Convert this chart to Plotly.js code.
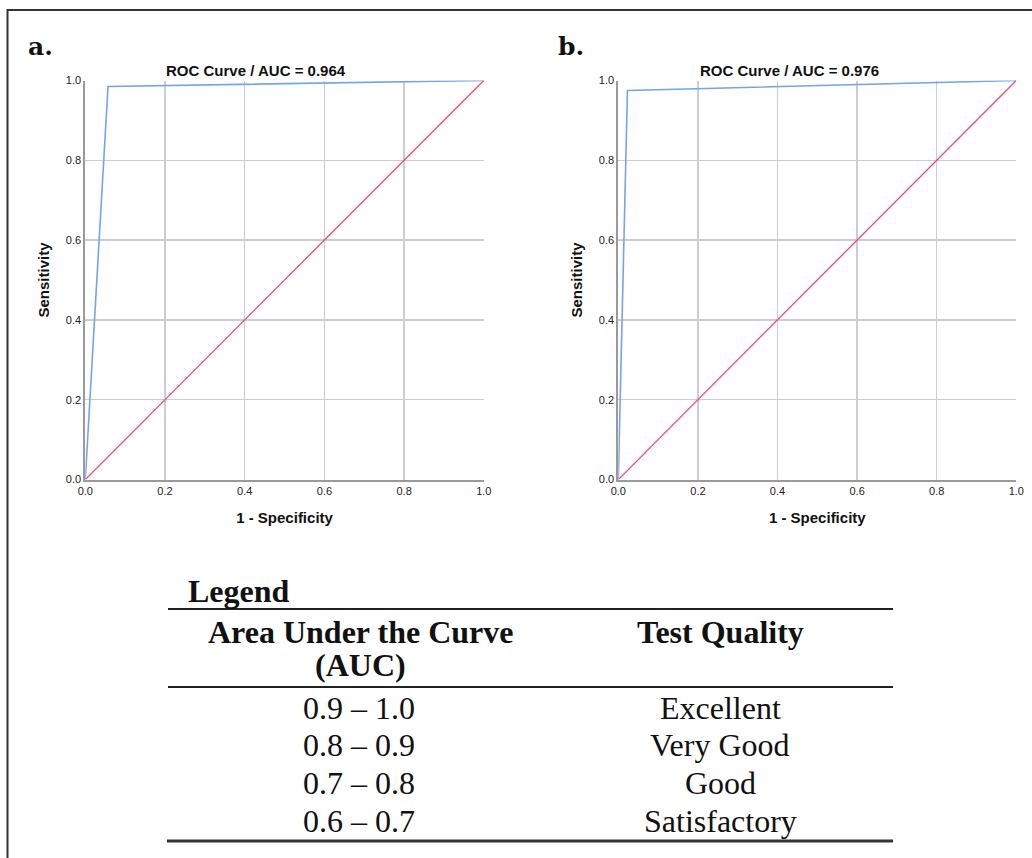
<!DOCTYPE html>
<html>
<head>
<meta charset="utf-8">
<script src="https://cdn.plot.ly/plotly-3.0.1.min.js"></script>
<style>
  html, body { margin: 0; padding: 0; background: #fff; }
  #chart { width: 1032px; height: 858px; }
</style>
</head>
<body>
<div id="chart"></div>
<script>
// ---- Data ----
const fprA = [0, 0.057, 1];
const tprA = [0, 0.985, 1];
const fprB = [0, 0.023, 1];
const tprB = [0, 0.975, 1];
const refX = [0, 1];
const refY = [0, 1];
const aucA = 0.964;
const aucB = 0.976;
const tickVals = [0, 0.2, 0.4, 0.6, 0.8, 1.0];
const tickText = ["0.0", "0.2", "0.4", "0.6", "0.8", "1.0"];
const aucRanges = ["0.9 – 1.0", "0.8 – 0.9", "0.7 – 0.8", "0.6 – 0.7"];
const qualities = ["Excellent", "Very Good", "Good", "Satisfactory"];

// ---- Layout helpers (pixel -> paper) ----
const W = 1032, H = 858;
const px = x => x / W;
const py = y => 1 - y / H;

const blue = "#74a4ea";
const red = "#ec4a76";
const sans = "Liberation Sans, Arial, sans-serif";
const serif = "Liberation Serif, Times New Roman, serif";
const tableSize = 32;

const traces = [
  { x: fprA, y: tprA, xaxis: "x", yaxis: "y", mode: "lines", line: { color: blue, width: 1.6 }, hoverinfo: "skip" },
  { x: refX, y: refY, xaxis: "x", yaxis: "y", mode: "lines", line: { color: red, width: 1.3 }, hoverinfo: "skip" },
  { x: fprB, y: tprB, xaxis: "x2", yaxis: "y2", mode: "lines", line: { color: blue, width: 1.6 }, hoverinfo: "skip" },
  { x: refX, y: refY, xaxis: "x2", yaxis: "y2", mode: "lines", line: { color: red, width: 1.3 }, hoverinfo: "skip" }
];

function xax(domain, anchor) {
  return {
    domain: domain, anchor: anchor, range: [0, 1], fixedrange: true,
    tickvals: tickVals, ticktext: tickText, ticks: "",
    tickfont: { family: sans, size: 11, color: "#222" },
    showgrid: true, gridcolor: "#cdcdcd", gridwidth: 1.3,
    showline: true, linecolor: "#9a9a9a", linewidth: 2, zeroline: false,
    title: { text: "<b>1 - Specificity</b>", font: { family: sans, size: 15, color: "#111" }, standoff: 17 },
    automargin: false
  };
}
function yax(domain, anchor) {
  return {
    domain: domain, anchor: anchor, range: [0, 1], fixedrange: true,
    tickvals: tickVals, ticktext: tickText, ticks: "",
    tickfont: { family: sans, size: 11, color: "#222" },
    showgrid: true, gridcolor: "#cdcdcd", gridwidth: 1.3,
    showline: true, linecolor: "#9a9a9a", linewidth: 2, zeroline: false,
    title: { text: "<b>Sensitivity</b>", font: { family: sans, size: 15, color: "#111" }, standoff: 13 },
    automargin: false
  };
}

const yDom = [py(479.5), py(80.5)];

const annotations = [
  { text: "<b>a.</b>", x: px(26), y: py(47), xanchor: "left", yanchor: "middle", font: { family: "DejaVu Serif, serif", size: 25, color: "#111" } },
  { text: "<b>b.</b>", x: px(556), y: py(47), xanchor: "left", yanchor: "middle", font: { family: "DejaVu Serif, serif", size: 25, color: "#111" } },
  { text: "<b>ROC Curve / AUC = " + aucA.toFixed(3) + "</b>", x: px(256), y: py(70), xanchor: "center", yanchor: "middle", font: { family: sans, size: 15, color: "#111" } },
  { text: "<b>ROC Curve / AUC = " + aucB.toFixed(3) + "</b>", x: px(789), y: py(70), xanchor: "center", yanchor: "middle", font: { family: sans, size: 15, color: "#111" } },
  { text: "<b>Legend</b>", x: px(186), y: py(591), xanchor: "left", yanchor: "middle", font: { family: serif, size: tableSize, color: "#111" } },
  { text: "<b>Area Under the Curve</b>", x: px(360), y: py(632), xanchor: "center", yanchor: "middle", font: { family: serif, size: tableSize, color: "#111" } },
  { text: "<b>(AUC)</b>", x: px(360), y: py(665), xanchor: "center", yanchor: "middle", font: { family: serif, size: tableSize, color: "#111" } },
  { text: "<b>Test Quality</b>", x: px(720), y: py(632), xanchor: "center", yanchor: "middle", font: { family: serif, size: tableSize, color: "#111" } }
];
const rowY = [708, 745, 783, 821];
aucRanges.forEach((r, i) => {
  annotations.push({ text: r, x: px(359), y: py(rowY[i]), xanchor: "center", yanchor: "middle", font: { family: serif, size: tableSize, color: "#111" } });
  annotations.push({ text: qualities[i], x: px(720), y: py(rowY[i]), xanchor: "center", yanchor: "middle", font: { family: serif, size: tableSize, color: "#111" } });
});
annotations.forEach(a => { a.xref = "paper"; a.yref = "paper"; a.showarrow = false; });

const shapes = [
  { type: "rect", xref: "paper", yref: "paper", x0: px(7.5), x1: px(1040), y0: py(870), y1: py(10), line: { color: "#333", width: 2 } },
  { type: "line", xref: "paper", yref: "paper", x0: px(168), x1: px(893), y0: py(609), y1: py(609), line: { color: "#222", width: 2 } },
  { type: "line", xref: "paper", yref: "paper", x0: px(168), x1: px(893), y0: py(687), y1: py(687), line: { color: "#222", width: 2 } },
  { type: "line", xref: "paper", yref: "paper", x0: px(167), x1: px(893), y0: py(841), y1: py(841), line: { color: "#333", width: 3 } }
];

const layout = {
  width: W, height: H,
  margin: { l: 0, r: 0, t: 0, b: 0 },
  paper_bgcolor: "#fff", plot_bgcolor: "#fff",
  showlegend: false,
  xaxis: xax([px(85.3), px(483.8)], "y"),
  yaxis: yax(yDom, "x"),
  xaxis2: xax([px(618.3), px(1016.3)], "y2"),
  yaxis2: yax(yDom, "x2"),
  annotations: annotations,
  shapes: shapes
};

Plotly.newPlot("chart", traces, layout, { displayModeBar: false, staticPlot: true });
</script>
</body>
</html>
